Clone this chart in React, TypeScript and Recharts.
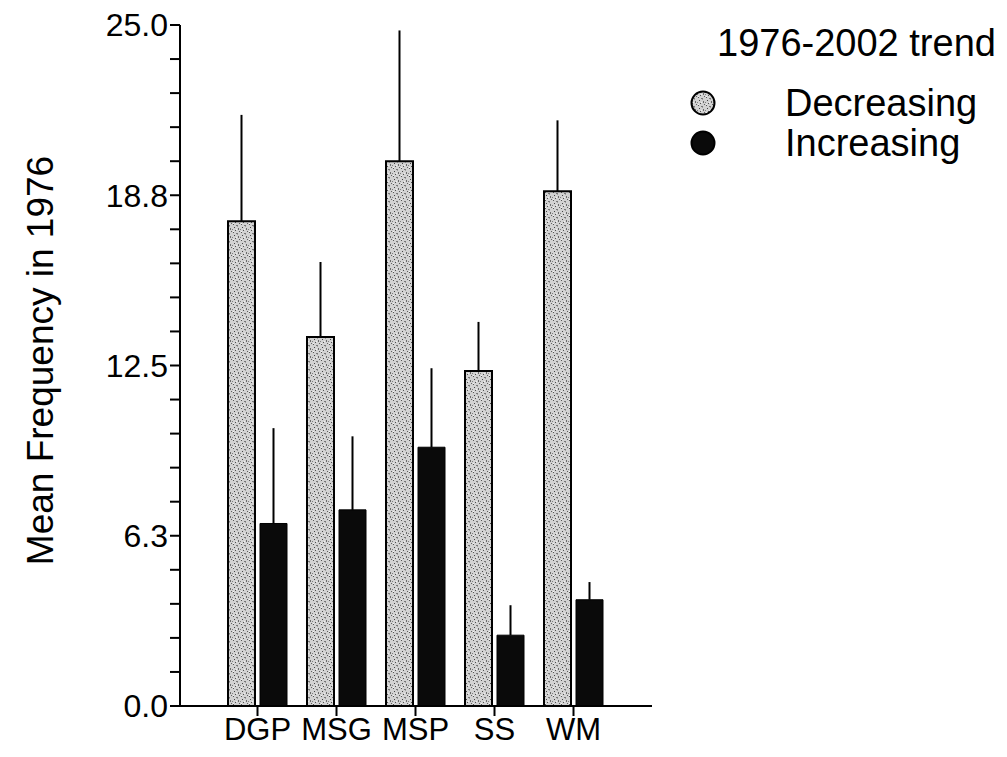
import { BarChart, Bar, XAxis, YAxis, ErrorBar } from 'recharts';

const categories = ['DGP', 'MSG', 'MSP', 'SS', 'WM'];
// mean frequency in 1976, by 1976-2002 trend
const decreasing = [17.8, 13.55, 20.0, 12.3, 18.9];
const decreasingUpper = [21.7, 16.3, 24.8, 14.1, 21.5];
const increasing = [6.7, 7.2, 9.5, 2.6, 3.9];
const increasingUpper = [10.2, 9.9, 12.4, 3.7, 4.55];
const yTicks = [0, 1.25, 2.5, 3.75, 5, 6.25, 7.5, 8.75, 10, 11.25, 12.5, 13.75, 15, 16.25, 17.5, 18.75, 20, 21.25, 22.5, 23.75, 25];
const labelledTicks = [0, 6.25, 12.5, 18.75, 25];

const data = categories.map((name, i) => ({
  name,
  decreasing: decreasing[i],
  decErr: [0, decreasingUpper[i] - decreasing[i]],
  increasing: increasing[i],
  incErr: [0, increasingUpper[i] - increasing[i]],
}));

const FONT = '"Liberation Sans", Arial, sans-serif';

function LegendBox() {
  const dot = (fill: string) => (
    <svg width={28} height={28} style={{ display: 'block' }}>
      <circle cx={14} cy={14} r={11.5} fill={fill} stroke="#000" strokeWidth={2} />
    </svg>
  );
  return (
    <div
      style={{
        position: 'absolute',
        left: 689,
        top: 23,
        fontFamily: FONT,
        color: '#000',
        fontSize: 38,
        lineHeight: '40px',
        whiteSpace: 'nowrap',
      }}
    >
      <div style={{ marginLeft: 28 }}>1976-2002 trend</div>
      <div style={{ display: 'flex', alignItems: 'center', marginTop: 20, height: 40 }}>
        {dot('url(#speckle)')}
        <span style={{ marginLeft: 68 }}>Decreasing</span>
      </div>
      <div style={{ display: 'flex', alignItems: 'center', height: 40 }}>
        {dot('#0a0a0a')}
        <span style={{ marginLeft: 68 }}>Increasing</span>
      </div>
    </div>
  );
}

export default function App() {
  return (
    <div style={{ position: 'absolute', left: 0, top: 0, width: 1007, height: 757, background: '#fff' }}>
      <svg width={0} height={0} style={{ position: 'absolute' }}>
        <defs>
          {/* speckled grey fill, like the scanned halftone */}
          <pattern id="speckle" width="8" height="8" patternUnits="userSpaceOnUse">
            <rect width="8" height="8" fill="#d2d2d2" />
            <rect x="1" y="0" width="1" height="1" fill="#555" />
            <rect x="4" y="1" width="2" height="1" fill="#777" />
            <rect x="2" y="3" width="1" height="1" fill="#444" />
            <rect x="6" y="4" width="1" height="2" fill="#6a6a6a" />
            <rect x="0" y="5" width="1" height="1" fill="#808080" />
            <rect x="3" y="6" width="1" height="1" fill="#505050" />
            <rect x="5" y="2" width="1" height="1" fill="#a0a0a0" />
            <rect x="7" y="7" width="1" height="1" fill="#606060" />
            <rect x="4" y="5" width="1" height="1" fill="#f0f0f0" />
            <rect x="1" y="7" width="1" height="1" fill="#f4f4f4" />
          </pattern>
        </defs>
      </svg>
      <BarChart
        width={1007}
        height={757}
        data={data}
        margin={{ top: 25, right: 355, bottom: 0, left: 0 }}
        barSize={27}
        barGap={5}
      >
        <XAxis
          dataKey="name"
          height={51}
          padding={{ left: 38, right: 39 }}
          tickSize={10}
          tickMargin={2}
          axisLine={{ stroke: '#000', strokeWidth: 2 }}
          tickLine={{ stroke: '#000', strokeWidth: 2 }}
          tick={{ fill: '#000', fontSize: 31, fontFamily: FONT }}
          interval={0}
        />
        <YAxis
          width={180}
          domain={[0, 25]}
          ticks={yTicks}
          interval={0}
          tickSize={10}
          tickMargin={2}
          axisLine={{ stroke: '#000', strokeWidth: 2 }}
          tickLine={{ stroke: '#000', strokeWidth: 2 }}
          tick={{ fill: '#000', fontSize: 32, fontFamily: FONT }}
          tickFormatter={(v: number) => (labelledTicks.includes(v) ? v.toFixed(1) : '')}
          label={{
            content: (props: any) => {
              const vb = props.viewBox;
              const cy = vb.y + vb.height / 2 - 5;
              return (
                <text
                  x={40}
                  y={cy}
                  transform={`rotate(-90, 40, ${cy})`}
                  textAnchor="middle"
                  dominantBaseline="central"
                  fontSize={37}
                  fontFamily={FONT}
                  fill="#000"
                >
                  Mean Frequency in 1976
                </text>
              );
            },
          }}
        />
        <Bar dataKey="decreasing" name="Decreasing" fill="url(#speckle)" stroke="#000" strokeWidth={2} isAnimationActive={false}>
          <ErrorBar dataKey="decErr" width={0} stroke="#000" strokeWidth={2} direction="y" />
        </Bar>
        <Bar dataKey="increasing" name="Increasing" fill="#0a0a0a" stroke="#000" strokeWidth={1} isAnimationActive={false}>
          <ErrorBar dataKey="incErr" width={0} stroke="#000" strokeWidth={2} direction="y" />
        </Bar>
      </BarChart>
      <LegendBox />
    </div>
  );
}
